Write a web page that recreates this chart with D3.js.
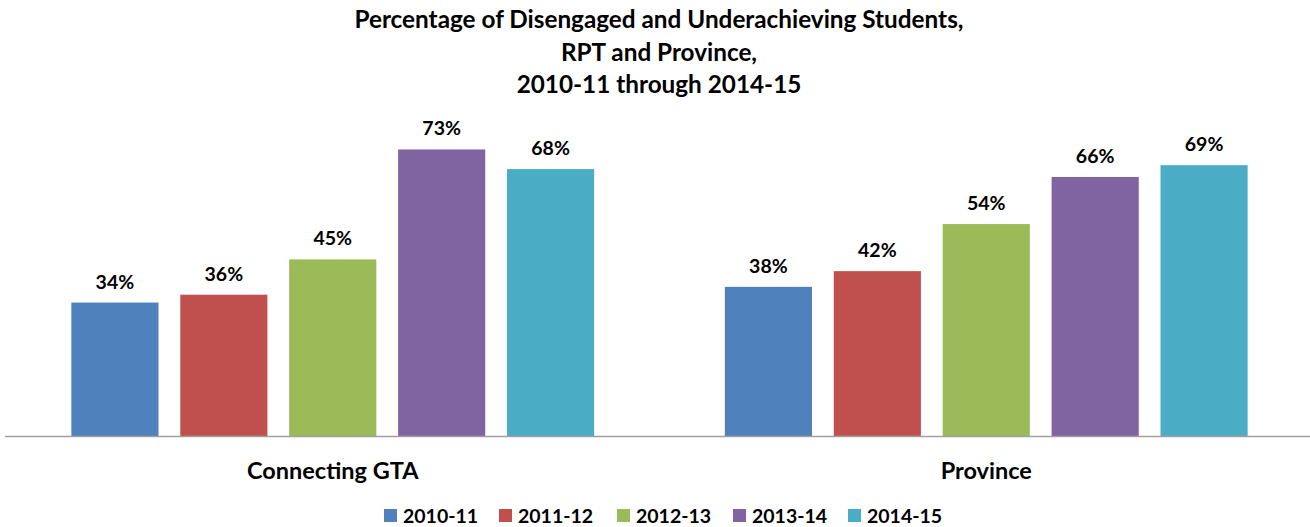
<!DOCTYPE html>
<html><head><meta charset="utf-8">
<script src="https://cdn.jsdelivr.net/npm/d3@7"></script>
<style>body{margin:0;background:#fff}svg{display:block}text{font-family:Lato,"Open Sans",sans-serif;font-weight:700;fill:#000}</style>
</head><body><svg id="c" width="1310" height="527"></svg>
<script>
const categories = ["Connecting GTA", "Province"];
const years = ["2010-11", "2011-12", "2012-13", "2013-14", "2014-15"];
const values2010 = [34, 38];
const values2011 = [36, 42];
const values2012 = [45, 54];
const values2013 = [73, 66];
const values2014 = [68, 69];
const colors = ["#4F81BD", "#C0504D", "#9BBB59", "#8064A2", "#4BACC6"];
const titleLines = ["Percentage of Disengaged and Underachieving Students,", "RPT and Province,", "2010-11 through 2014-15"];

const series = [values2010, values2011, values2012, values2013, values2014];
const svg = d3.select("#c");
const x0 = d3.scaleBand().domain(categories).range([6, 1313]).padding(0);
const x1 = d3.scaleBand().domain(years).range([0, x0.bandwidth()]).paddingInner(0.2).paddingOuter(0.6);
const y = d3.scaleLinear().domain([0, 80]).range([436, 122]);
const color = d3.scaleOrdinal().domain(years).range(colors);

const data = [];
categories.forEach((c, ci) => years.forEach((yr, yi) => data.push({cat: c, year: yr, v: series[yi][ci]})));

svg.append("g").selectAll("text").data(titleLines).join("text")
  .attr("x", 659).attr("y", (d, i) => 28 + i * 32.5)
  .attr("text-anchor", "middle").style("font-size", "24.3px").text(d => d);

const g = svg.append("g");
g.selectAll("rect").data(data).join("rect")
  .attr("x", d => x0(d.cat) + x1(d.year)).attr("width", x1.bandwidth())
  .attr("y", d => y(d.v)).attr("height", d => y(0) - y(d.v))
  .attr("fill", d => color(d.year));
g.selectAll("text.v").data(data).join("text").attr("class", "v")
  .attr("x", d => x0(d.cat) + x1(d.year) + x1.bandwidth() / 2)
  .attr("y", d => y(d.v) - 14).attr("text-anchor", "middle")
  .style("font-size", "19.5px").text(d => d.v + "%");

const xAxis = svg.append("g").attr("transform", `translate(0,${y(0)})`)
  .call(d3.axisBottom(x0).tickSize(0).tickPadding(26));
xAxis.select(".domain").attr("d", "M5,0.5H1310").attr("stroke", "#a0a0a0").attr("stroke-width", 1.5);
xAxis.selectAll(".tick text").style("font-size", "23.5px").style("font-family", "Lato,'Open Sans',sans-serif").attr("fill", "#000");

const legend = svg.append("g");
const lx = [384, 499, 617, 733, 848];
const items = legend.selectAll("g").data(years).join("g")
  .attr("transform", (d, i) => `translate(${lx[i]},509)`);
items.append("rect").attr("width", 13).attr("height", 13).attr("fill", d => color(d));
items.append("text").attr("x", 19).attr("y", 14).style("font-size", "19.5px").text(d => d);
</script></body></html>
